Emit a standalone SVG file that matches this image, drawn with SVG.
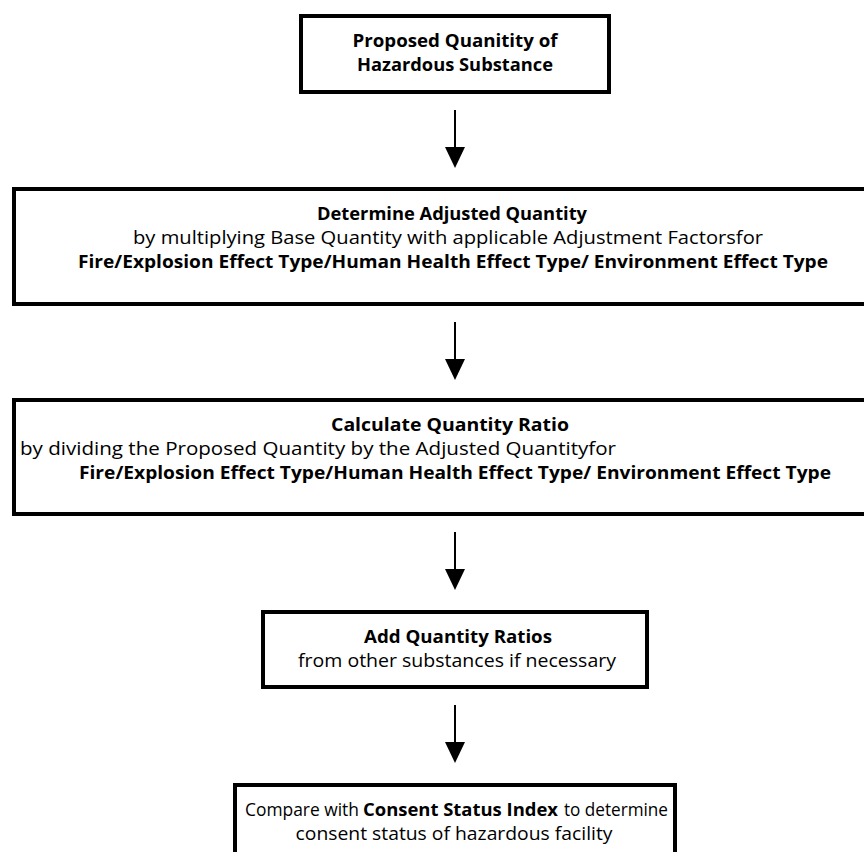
<svg xmlns="http://www.w3.org/2000/svg" width="864" height="852" viewBox="0 0 864 852">
<style>
.box{fill:#fff;stroke:#000;stroke-width:4}
.t{font-family:"Open Sans","Noto Sans","Liberation Sans",sans-serif;font-size:18px;fill:#000}
.b{font-weight:bold}
.c{text-anchor:middle}
.ln{stroke:#000;stroke-width:2}
</style>
<rect width="864" height="852" fill="#fff"/>
<g id="connectors">
<line class="ln" x1="455" y1="110" x2="455" y2="150"/><polygon points="445,147 465,147 455,168"/>
<line class="ln" x1="455" y1="322" x2="455" y2="362"/><polygon points="445,359 465,359 455,380"/>
<line class="ln" x1="455" y1="532" x2="455" y2="572"/><polygon points="445,569 465,569 455,590"/>
<line class="ln" x1="455" y1="705" x2="455" y2="745"/><polygon points="445,742 465,742 455,763"/>
</g>
<g id="n1">
<rect class="box" x="301" y="16" width="308" height="76"/>
<text class="t b c" x="455" y="47" textLength="205" lengthAdjust="spacingAndGlyphs">Proposed Quanitity of</text>
<text class="t b c" x="455" y="71" textLength="196" lengthAdjust="spacingAndGlyphs">Hazardous Substance</text>
</g>
<g id="n2">
<rect class="box" x="14" y="189" width="890" height="115"/>
<text class="t b c" x="452" y="220" textLength="270" lengthAdjust="spacingAndGlyphs">Determine Adjusted Quantity</text>
<text class="t c" x="448" y="244" textLength="630" lengthAdjust="spacingAndGlyphs">by multiplying Base Quantity with applicable Adjustment Factorsfor</text>
<text class="t b c" x="453" y="268" textLength="750" lengthAdjust="spacingAndGlyphs">Fire/Explosion Effect Type/Human Health Effect Type/ Environment Effect Type</text>
</g>
<g id="n3">
<rect class="box" x="14" y="400" width="890" height="114"/>
<text class="t b c" x="450" y="431" textLength="238" lengthAdjust="spacingAndGlyphs">Calculate Quantity Ratio</text>
<text class="t" x="20" y="455" textLength="596" lengthAdjust="spacingAndGlyphs">by dividing the Proposed Quantity by the Adjusted Quantityfor</text>
<text class="t b c" x="455" y="479" textLength="752" lengthAdjust="spacingAndGlyphs">Fire/Explosion Effect Type/Human Health Effect Type/ Environment Effect Type</text>
</g>
<g id="n4">
<rect class="box" x="263" y="612" width="384" height="75"/>
<text class="t b c" x="458" y="643" textLength="188" lengthAdjust="spacingAndGlyphs">Add Quantity Ratios</text>
<text class="t c" x="457" y="667" textLength="318" lengthAdjust="spacingAndGlyphs">from other substances if necessary</text>
</g>
<g id="n5">
<rect class="box" x="235" y="785" width="440" height="100"/>
<text class="t" x="245" y="816" textLength="114" lengthAdjust="spacingAndGlyphs">Compare with</text>
<text class="t b" x="363" y="816" textLength="195" lengthAdjust="spacingAndGlyphs">Consent Status Index</text>
<text class="t" x="564" y="816" textLength="104" lengthAdjust="spacingAndGlyphs">to determine</text>
<text class="t c" x="454" y="840" textLength="317" lengthAdjust="spacingAndGlyphs">consent status of hazardous facility</text>
</g>
</svg>
